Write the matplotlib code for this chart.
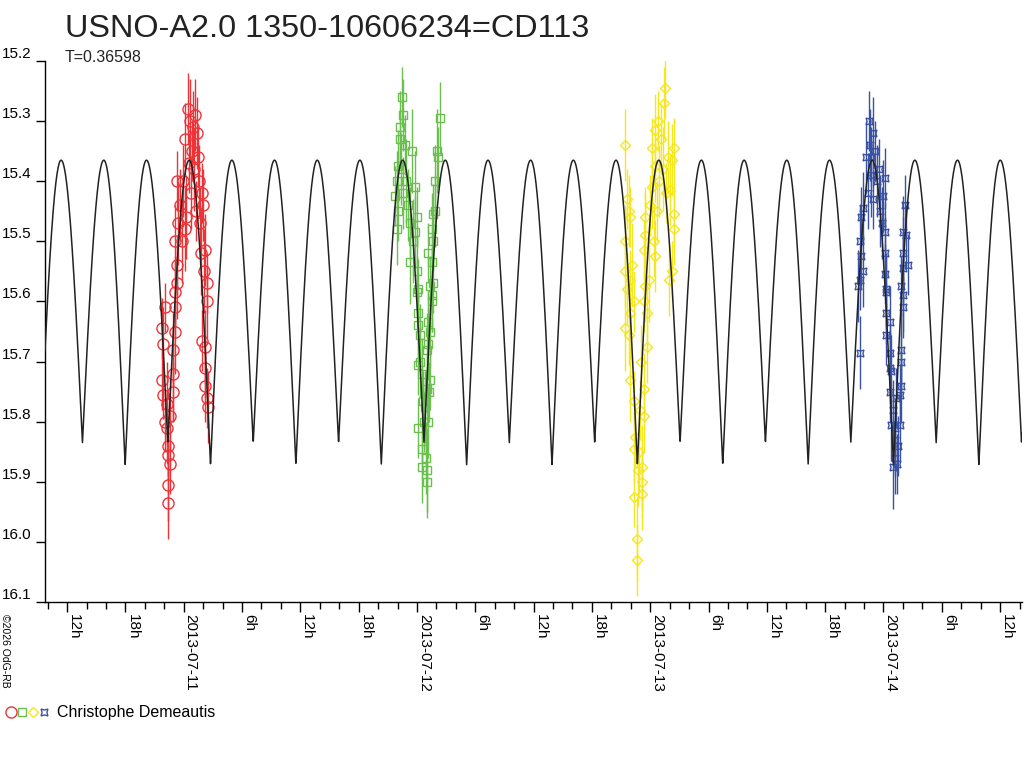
import numpy as np
import matplotlib
matplotlib.use("Agg")
import matplotlib.pyplot as plt
import matplotlib.dates as mdates
from matplotlib.ticker import FixedLocator, FuncFormatter
from matplotlib.legend_handler import HandlerTuple
from matplotlib.lines import Line2D
from datetime import datetime, timedelta

plt.rcParams['font.family'] = ['Liberation Sans', 'DejaVu Sans']

# ---------------- text ----------------
title = "USNO-A2.0 1350-10606234=CD113"
subtitle = "T=0.36598"
observer = "Christophe Demeautis"
copyright_txt = "\u00a92026 OdG-RB"

# ---------------- model ephemeris (light-curve model) ----------------
ref_date = datetime(2013, 7, 11)      # hours below are counted from this date (UT)
period_days = 0.36598
epoch_primary_hours = 2.76            # time of a deeper minimum
mag_max = 15.365
mag_min_primary = 15.872
mag_min_secondary = 15.835

x_start_hours = -14.27
x_end_hours = 86.25
y_ticks = [15.2, 15.3, 15.4, 15.5, 15.6, 15.7, 15.8, 15.9, 16.0, 16.1]

# ---------------- observations: (hours from ref_date, magnitude, error) ----------------
night1_red = [
    (-2.26, 15.645, 0.05), (-2.13, 15.670, 0.06), (-1.92, 15.610, 0.04), (-2.26, 15.730, 0.05),
    (-2.13, 15.755, 0.04), (-1.92, 15.800, 0.05), (-1.75, 15.810, 0.06), (-1.62, 15.840, 0.05),
    (-1.62, 15.855, 0.04), (-1.41, 15.870, 0.05), (-1.62, 15.905, 0.06), (-1.62, 15.935, 0.06),
    (-1.75, 15.770, 0.07), (-1.41, 15.790, 0.06), (-1.10, 15.720, 0.08), (-1.10, 15.750, 0.05),
    (-1.10, 15.680, 0.06), (-0.90, 15.650, 0.07), (-0.90, 15.610, 0.05), (-0.90, 15.585, 0.06),
    (-0.69, 15.540, 0.05), (-0.90, 15.500, 0.06), (-0.59, 15.470, 0.07), (-0.69, 15.570, 0.06),
    (-0.38, 15.440, 0.06), (-0.69, 15.400, 0.05), (-0.20, 15.500, 0.07), (-0.05, 15.400, 0.06),
    (0.10, 15.480, 0.07), (0.15, 15.330, 0.06), (0.25, 15.460, 0.07), (0.44, 15.280, 0.06),
    (0.55, 15.370, 0.05), (0.65, 15.300, 0.07), (0.75, 15.420, 0.06), (0.85, 15.350, 0.05),
    (0.96, 15.310, 0.06), (1.05, 15.380, 0.07), (1.15, 15.290, 0.06), (1.25, 15.450, 0.05),
    (1.37, 15.320, 0.06), (1.47, 15.360, 0.05), (1.55, 15.400, 0.06), (1.65, 15.470, 0.06),
    (1.75, 15.520, 0.07), (1.88, 15.420, 0.05), (1.99, 15.440, 0.06), (2.05, 15.550, 0.07),
    (2.19, 15.515, 0.06), (2.40, 15.570, 0.05), (2.40, 15.600, 0.06), (1.88, 15.665, 0.05),
    (2.19, 15.675, 0.06), (2.19, 15.710, 0.05), (2.19, 15.740, 0.06), (2.40, 15.760, 0.05),
    (2.50, 15.775, 0.06),
]

night2_green = [
    (22.43, 15.260, 0.05), (22.25, 15.310, 0.06), (22.25, 15.330, 0.05), (22.05, 15.375, 0.06),
    (21.74, 15.425, 0.05), (21.91, 15.480, 0.06), (23.46, 15.350, 0.07), (23.80, 15.410, 0.06),
    (23.97, 15.460, 0.05), (23.80, 15.485, 0.06), (23.28, 15.535, 0.07), (23.97, 15.550, 0.06),
    (24.11, 15.580, 0.05), (26.37, 15.295, 0.06), (26.03, 15.350, 0.07), (25.85, 15.400, 0.06),
    (25.65, 15.455, 0.05), (25.51, 15.480, 0.06), (25.13, 15.520, 0.05), (25.51, 15.535, 0.06),
    (25.34, 15.575, 0.05), (23.97, 15.585, 0.06), (24.11, 15.620, 0.05), (24.11, 15.640, 0.06),
    (24.31, 15.655, 0.05), (25.00, 15.680, 0.06), (24.11, 15.705, 0.05), (24.49, 15.720, 0.06),
    (25.34, 15.730, 0.05), (25.00, 15.745, 0.06), (24.62, 15.765, 0.05), (24.82, 15.775, 0.06),
    (24.11, 15.810, 0.05), (25.13, 15.800, 0.06), (24.49, 15.845, 0.05), (24.49, 15.875, 0.06),
    (25.00, 15.880, 0.07), (25.00, 15.900, 0.06), (25.51, 15.600, 0.05), (25.51, 15.590, 0.06),
    (25.13, 15.635, 0.05), (25.13, 15.670, 0.06), (25.65, 15.570, 0.05), (22.60, 15.290, 0.06),
    (22.80, 15.340, 0.05), (22.40, 15.380, 0.06), (22.90, 15.400, 0.07), (23.10, 15.440, 0.06),
    (22.10, 15.450, 0.05), (22.60, 15.420, 0.06), (21.90, 15.400, 0.05), (23.30, 15.470, 0.06),
    (23.60, 15.500, 0.07), (24.30, 15.700, 0.06), (24.70, 15.800, 0.05), (24.90, 15.860, 0.06),
    (25.20, 15.750, 0.05), (25.30, 15.650, 0.06), (25.70, 15.500, 0.05), (25.90, 15.450, 0.06),
    (26.20, 15.360, 0.05),
]

night3_yellow = [
    (45.43, 15.340, 0.06), (45.61, 15.430, 0.05), (45.78, 15.450, 0.06), (45.92, 15.460, 0.05),
    (45.43, 15.500, 0.06), (46.13, 15.540, 0.07), (45.43, 15.550, 0.06), (45.92, 15.565, 0.05),
    (45.61, 15.580, 0.06), (46.30, 15.600, 0.05), (45.92, 15.620, 0.06), (45.43, 15.645, 0.07),
    (49.38, 15.270, 0.06), (49.55, 15.245, 0.05), (48.49, 15.315, 0.06), (48.18, 15.345, 0.05),
    (50.23, 15.365, 0.06), (50.40, 15.345, 0.05), (48.49, 15.375, 0.06), (48.18, 15.410, 0.07),
    (50.02, 15.415, 0.06), (47.99, 15.440, 0.05), (50.40, 15.455, 0.06), (47.49, 15.460, 0.05),
    (50.40, 15.480, 0.06), (47.49, 15.490, 0.07), (48.35, 15.500, 0.06), (47.33, 15.515, 0.05),
    (48.49, 15.525, 0.06), (50.23, 15.550, 0.05), (49.90, 15.565, 0.06), (47.84, 15.565, 0.07),
    (47.49, 15.575, 0.06), (47.33, 15.600, 0.05), (47.66, 15.620, 0.06), (45.78, 15.655, 0.05),
    (47.66, 15.675, 0.06), (45.95, 15.730, 0.07), (47.33, 15.745, 0.06), (46.30, 15.765, 0.05),
    (47.33, 15.790, 0.06), (46.46, 15.825, 0.05), (46.30, 15.845, 0.06), (47.15, 15.875, 0.07),
    (47.15, 15.900, 0.06), (46.30, 15.925, 0.05), (47.15, 15.920, 0.06), (46.64, 15.995, 0.07),
    (46.64, 16.030, 0.06), (48.80, 15.300, 0.05), (49.10, 15.330, 0.06), (49.30, 15.380, 0.07),
    (48.90, 15.400, 0.06), (49.60, 15.420, 0.05), (49.80, 15.360, 0.06), (48.70, 15.450, 0.05),
    (47.00, 15.700, 0.06), (46.80, 15.850, 0.07), (46.70, 15.880, 0.06), (46.90, 15.780, 0.05),
]

night4_blue = [
    (70.58, 15.340, 0.06), (70.74, 15.360, 0.05), (70.23, 15.360, 0.06), (70.74, 15.390, 0.07),
    (70.40, 15.420, 0.06), (70.92, 15.430, 0.05), (69.89, 15.445, 0.06), (69.71, 15.460, 0.05),
    (69.55, 15.500, 0.06), (69.71, 15.525, 0.05), (69.89, 15.550, 0.06), (69.55, 15.565, 0.05),
    (69.37, 15.575, 0.06), (72.12, 15.395, 0.05), (71.94, 15.425, 0.06), (72.12, 15.485, 0.05),
    (72.12, 15.520, 0.06), (72.12, 15.555, 0.05), (72.28, 15.580, 0.06), (74.18, 15.440, 0.05),
    (74.00, 15.485, 0.06), (74.34, 15.490, 0.05), (74.00, 15.520, 0.06), (74.52, 15.540, 0.05),
    (74.00, 15.545, 0.06), (73.83, 15.575, 0.05), (72.28, 15.585, 0.06), (72.28, 15.620, 0.05),
    (72.63, 15.635, 0.06), (72.28, 15.655, 0.05), (69.55, 15.685, 0.06), (72.63, 15.685, 0.05),
    (72.63, 15.710, 0.06), (72.63, 15.750, 0.05), (72.80, 15.715, 0.06), (73.31, 15.760, 0.05),
    (72.80, 15.805, 0.06), (73.15, 15.810, 0.05), (73.15, 15.830, 0.06), (72.97, 15.875, 0.07),
    (74.00, 15.610, 0.05), (73.83, 15.680, 0.06), (73.83, 15.700, 0.05), (73.83, 15.740, 0.06),
    (73.66, 15.755, 0.05), (73.66, 15.805, 0.06), (73.49, 15.840, 0.05), (74.00, 15.590, 0.06),
    (70.90, 15.320, 0.06), (71.10, 15.350, 0.05), (71.30, 15.400, 0.06), (71.50, 15.380, 0.05),
    (71.60, 15.450, 0.06), (70.50, 15.300, 0.05), (71.80, 15.470, 0.06), (73.40, 15.870, 0.05),
    (73.20, 15.860, 0.06), (73.00, 15.780, 0.05),
]

colors = ['#ee3338', '#6bbf4f', '#f5e61e', '#3a52a3']
markers = ['o', 's', 'D', (4, 1, 45)]
msizes = [8, 5.5, 5.5, 7]

# ---------------- figure ----------------
fig = plt.figure(figsize=(10.24, 7.68), dpi=100)
ax = fig.add_axes([45 / 1024, 166 / 768, 977 / 1024, 541 / 768])

base = mdates.date2num(ref_date)


def to_x(hours):
    return base + np.asarray(hours, dtype=float) / 24.0


nights = [night1_red, night2_green, night3_yellow, night4_blue]
handles = []
for obs, c, m, ms in zip(nights, colors, markers, msizes):
    arr = np.array(obs)
    ax.errorbar(to_x(arr[:, 0]), arr[:, 1], yerr=arr[:, 2], fmt='none',
                ecolor=c, elinewidth=1.0, capsize=0, zorder=2)
    ax.plot(to_x(arr[:, 0]), arr[:, 1], ls='none', marker=m, ms=ms,
            mfc='none', mec=c, mew=1.0, zorder=3)
    handles.append(Line2D([], [], ls='none', marker=m, ms=ms, mfc='none', mec=c, mew=1.0))

# model light curve from ephemeris
t_h = np.linspace(x_start_hours, x_end_hours, 6000)
phase = ((t_h - epoch_primary_hours) / (period_days * 24.0)) % 1.0
depth = np.where((phase < 0.25) | (phase >= 0.75),
                 mag_min_primary - mag_max, mag_min_secondary - mag_max)
model = mag_max + depth * (1.0 - np.abs(np.sin(2 * np.pi * phase)))
ax.plot(to_x(t_h), model, color='#222222', lw=1.1, zorder=4)

# axes
ax.set_xlim(to_x(x_start_hours), to_x(x_end_hours))
ax.set_ylim(16.1, 15.2)
for s in ['top', 'right']:
    ax.spines[s].set_visible(False)
ax.spines['left'].set_linewidth(1.0)
ax.spines['bottom'].set_linewidth(1.0)

ax.set_yticks(y_ticks)
ax.set_yticklabels([f"{v:.1f}" for v in y_ticks])
ax.tick_params(axis='y', direction='out', length=6.5, width=1, pad=3.5, labelsize=11)
for lbl in ax.get_yticklabels():
    lbl.set_va('bottom')

first = int(np.ceil(x_start_hours / 2.0)) * 2
hours_minor = list(range(first, int(x_end_hours) + 1, 2))
hours_major = [h for h in hours_minor if h % 6 == 0]
ax.xaxis.set_major_locator(FixedLocator(to_x(hours_major)))
ax.xaxis.set_minor_locator(FixedLocator(to_x([h for h in hours_minor if h % 6 != 0])))


def fmt(x, pos):
    dt = mdates.num2date(x).replace(tzinfo=None) + timedelta(seconds=30)
    if dt.hour == 0:
        return dt.strftime("%Y-%m-%d")
    return f"{dt.hour}h"


ax.xaxis.set_major_formatter(FuncFormatter(fmt))
ax.tick_params(axis='x', which='major', direction='out', length=7.5, width=1, pad=1.5,
               labelsize=11, labelrotation=-90)
ax.tick_params(axis='x', which='minor', direction='out', length=5, width=1)
for lbl in ax.get_xticklabels():
    lbl.set_ha('left')
    lbl.set_va('top')

# texts
fig.text(65 / 1024, 1 - 29 / 768, title, fontsize=23.3, color='#222222', va='center', ha='left')
fig.text(65 / 1024, 1 - 58 / 768, subtitle, fontsize=11.5, color='#222222', va='center', ha='left')
fig.text(0 / 1024, 1 - 614 / 768, copyright_txt, fontsize=7.5, rotation=-90, va='top', ha='left')

leg = fig.legend([tuple(handles)], [observer], handler_map={tuple: HandlerTuple(ndivide=None, pad=0.0)},
                 loc='center left', bbox_to_anchor=(6 / 1024, 1 - 713 / 768), frameon=False,
                 fontsize=11.5, handlelength=2.7, handletextpad=0.5, borderaxespad=0, borderpad=0)

fig.savefig("out.png", dpi=100)
